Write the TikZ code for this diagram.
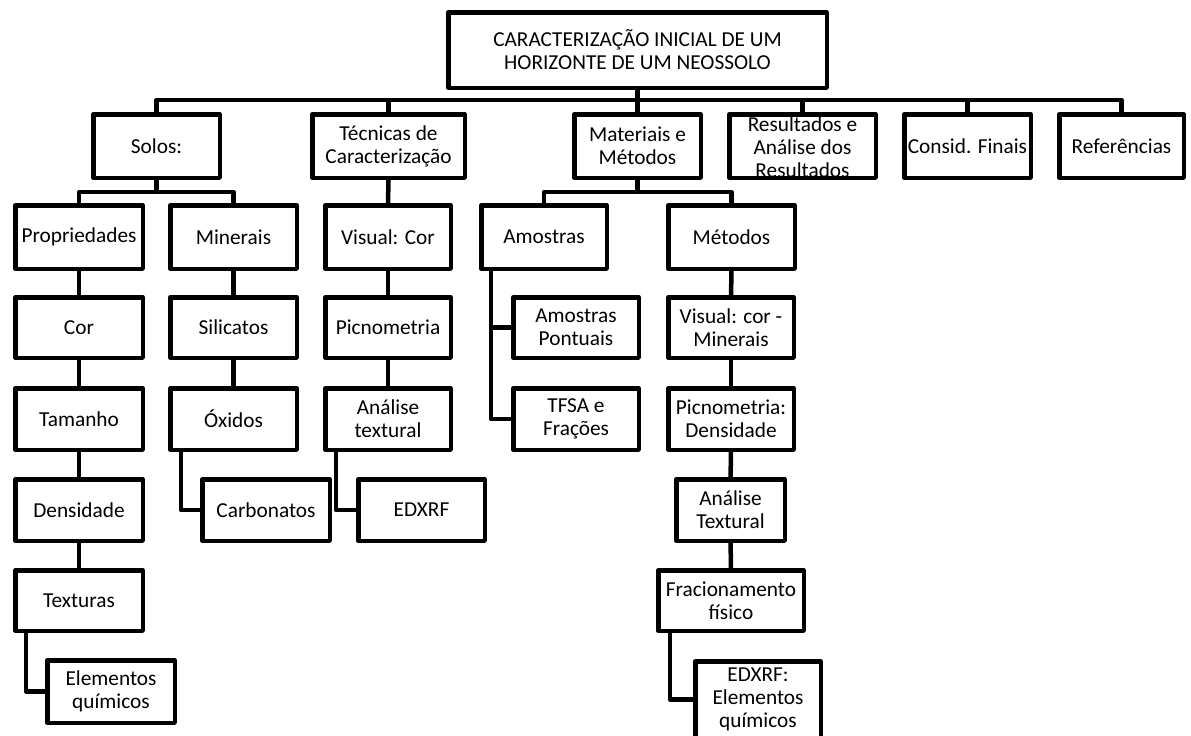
\documentclass[tikz,border=0pt]{standalone}
\usepackage{fontspec}
\setmainfont{Carlito}
\begin{document}
% Box from outer edges (x1,y1)-(x2,y2), y grows downward
\newcommand{\mkbox}[6]{%
  \node[box, minimum width={(#4-#2-4.5)*1pt}, minimum height={(#5-#3-4.5)*1pt}]
    (#1) at ({(#2+#4)/2},{(#3+#5)/2}) {#6};}
\begin{tikzpicture}[x=1pt, y=-1pt,
  box/.style={draw, line width=4.5pt, line join=round, inner sep=0pt, align=center,
    font=\fontsize{21.3}{23}\selectfont, fill=white},
  txt/.style={inner sep=0pt, align=center, font=\fontsize{21.3}{23}\selectfont},
  conn/.style={line width=4.5pt, line join=round}]
\useasboundingbox (0,0) rectangle (1191,736);

% coordinates of the two bus levels
\coordinate (bus) at (0,100);
\coordinate (sub) at (0,192);

% title
\mkbox{title}{446}{10}{829}{90}{CARACTERIZAÇÃO INICIAL DE UM\\HORIZONTE DE UM NEOSSOLO}

% first level
\mkbox{solos}{91}{112}{222}{180}{Solos:}
\mkbox{tec}{310}{112}{467}{180}{Técnicas de\\Caracterização}
\mkbox{mat}{572}{112}{703}{180}{Materiais e\\Métodos}
\mkbox{res}{727}{112}{878}{180}{}
\node[txt] at ([yshift=-1pt]res.center) {Resultados e\\Análise dos\\Resultados};
\mkbox{cons}{902}{112}{1033}{180}{Consid. Finais}
\mkbox{ref}{1057}{112}{1186}{180}{Referências}

% Solos: propriedades
\mkbox{prop}{13}{203}{145}{271}{Propriedades}
\mkbox{cor}{13}{295}{145}{360}{Cor}
\mkbox{tam}{13}{386}{145}{452}{Tamanho}
\mkbox{den}{13}{477}{145}{543}{Densidade}
\mkbox{tex}{13}{568}{145}{633}{Texturas}
\mkbox{elem}{45}{658}{177}{725}{Elementos\\químicos}

% Solos: minerais
\mkbox{min}{168}{203}{299}{271}{Minerais}
\mkbox{sil}{168}{295}{299}{360}{Silicatos}
\mkbox{oxi}{168}{386}{299}{452}{Óxidos}
\mkbox{carb}{200}{477}{332}{543}{Carbonatos}

% Técnicas
\mkbox{vis}{323}{203}{453}{271}{Visual: Cor}
\mkbox{pic}{323}{295}{453}{360}{Picnometria}
\mkbox{ana}{323}{386}{453}{452}{Análise\\textural}
\mkbox{edx}{356}{477}{487}{543}{EDXRF}

% Materiais: amostras
\mkbox{amo}{479}{203}{609}{271}{Amostras}
\mkbox{amp}{511}{295}{641}{360}{Amostras\\Pontuais}
\mkbox{tfsa}{511}{386}{641}{452}{TFSA e\\Frações}

% Materiais: métodos
\mkbox{met}{666}{203}{797}{271}{Métodos}
\mkbox{vcm}{666}{295}{796}{360}{Visual: cor -\\Minerais}
\mkbox{pd}{666}{386}{796}{452}{Picnometria:\\Densidade}
\mkbox{at}{674}{477}{787}{543}{Análise\\Textural}
\mkbox{frac}{656}{568}{806}{633}{Fracionamento\\físico}
\mkbox{edxe}{693}{659}{823}{740}{EDXRF:\\Elementos\\químicos}

% main bus
\draw[conn] (title.south) -- (title.south |- bus);
\draw[conn] (solos.north) |- (bus -| ref.north) -- (ref.north);
\draw[conn] (tec.north) -- (tec.north |- bus);
\draw[conn] (mat.north) -- (mat.north |- bus);
\draw[conn] (res.north) -- (res.north |- bus);
\draw[conn] (cons.north) -- (cons.north |- bus);

% Solos branch
\draw[conn] (solos.south) -- (solos.south |- sub);
\draw[conn] (prop.north) |- (sub -| min.north) -- (min.north);
\draw[conn] (prop) -- (cor);
\draw[conn] (cor) -- (tam);
\draw[conn] (tam) -- (den);
\draw[conn] (den) -- (tex);
\draw[conn] ([xshift=13pt]tex.south west) |- (elem.west);
\draw[conn] (min) -- (sil);
\draw[conn] (sil) -- (oxi);
\draw[conn] ([xshift=13pt]oxi.south west) |- (carb.west);

% Técnicas branch
\draw[conn] (tec.south) -- (vis.north);
\draw[conn] (vis) -- (pic);
\draw[conn] (pic) -- (ana);
\draw[conn] ([xshift=13pt]ana.south west) |- (edx.west);

% Materiais branch
\draw[conn] (mat.south) -- (mat.south |- sub);
\draw[conn] (amo.north) |- (sub -| met.north) -- (met.north);
\draw[conn] ([xshift=12pt]amo.south west) |- (tfsa.west);
\draw[conn] ([xshift=12pt]amo.south west) |- (amp.west);
\draw[conn] (met) -- (vcm);
\draw[conn] (vcm) -- (pd);
\draw[conn] (pd) -- (at);
\draw[conn] (at) -- (frac);
\draw[conn] ([xshift=14pt]frac.south west) |- (edxe.west);
\end{tikzpicture}
\end{document}
